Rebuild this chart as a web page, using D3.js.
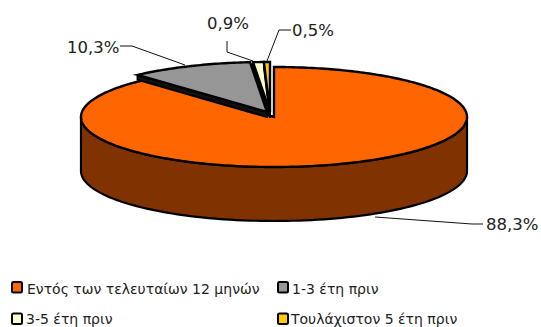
<!DOCTYPE html>
<html lang="el">
<head>
<meta charset="utf-8">
<script src="https://cdn.jsdelivr.net/npm/d3@7/dist/d3.min.js"></script>
<style>
html,body{margin:0;padding:0;background:#fff;overflow:hidden}
svg{display:block}
text{font-family:"DejaVu Sans",sans-serif;fill:#222}
</style>
</head>
<body>
<svg id="chart" width="541" height="327"></svg>
<script>
const categories = ["Εντός των τελευταίων 12 μηνών", "1-3 έτη πριν", "3-5 έτη πριν", "Τουλάχιστον 5 έτη πριν"];
const shares = [88.3, 10.3, 0.9, 0.5];
const topColors = ["#ff6600", "#969696", "#ffffcc", "#ffcc00"];
const sideColors = ["#803300", "#4b4b4b", "#808066", "#806600"];
const offsets = [[0, 0], [-7, -5], [-4, -5], [-4, -5]];
const labelAnchors = [[486, 230], [67, 53], [207, 29], [292, 36]];
const leaders = [
  [[375, 217], [472, 224], [483, 224]],
  [[185, 65], [132, 46], [120, 46]],
  [[253, 61], [227, 52], [227, 41]],
  [[267, 61], [279, 30], [291, 30]]
];
const legendSpots = [[11, 281, 27, 293.5], [277, 281, 292, 293.5], [11, 312.5, 26, 323.5], [277, 312.5, 291, 323.5]];

const cx = 274, cy = 117, rx = 193, ry = 50, depth = 54, detachedWall = 5;
const svg = d3.select("#chart");

// Clockwise from twelve o'clock; the ellipse comes from the two radii in pt().
const slices = d3.pie().sort(null).value(d => d).startAngle(0).endAngle(2 * Math.PI)(shares);
const pt = (a, dy = 0) => [rx * Math.sin(a), -ry * Math.cos(a) + dy];

// Outer wall of a slice: only the part of the rim facing the viewer is visible.
function wallPath(s) {
  const p = d3.path();
  const lo = Math.max(s.startAngle, Math.PI / 2), hi = Math.min(s.endAngle, 3 * Math.PI / 2);
  if (lo >= hi) return null;
  const steps = 96, top = [], bottom = [];
  d3.range(steps + 1).forEach(i => {
    const a = lo + (hi - lo) * i / steps;
    top.push(pt(a));
    bottom.push(pt(a, depth));
  });
  top.forEach((q, i) => i ? p.lineTo(q[0], q[1]) : p.moveTo(q[0], q[1]));
  bottom.reverse().forEach(q => p.lineTo(q[0], q[1]));
  p.closePath();
  return p.toString();
}

// Cut face below the leading edge of a detached slice.
function cutPath(s) {
  const q = pt(s.startAngle);
  const p = d3.path();
  p.moveTo(q[0], q[1]);
  p.lineTo(q[0], q[1] + detachedWall);
  p.lineTo(0, detachedWall);
  p.lineTo(0, 0);
  p.closePath();
  return p.toString();
}

// Top face traced as a polygon along the ellipse.
function facePath(s) {
  const steps = Math.max(4, Math.ceil((s.endAngle - s.startAngle) * 60));
  const p = d3.path();
  p.moveTo(0, 0);
  d3.range(steps + 1).forEach(i => {
    const q = pt(s.startAngle + (s.endAngle - s.startAngle) * i / steps);
    p.lineTo(q[0], q[1]);
  });
  p.closePath();
  return p.toString();
}

const groups = svg.selectAll("g.slice").data(slices).join("g")
  .attr("class", "slice")
  .attr("transform", (d, i) => `translate(${cx + offsets[i][0]},${cy + offsets[i][1]})`);

groups.filter((d, i) => i > 0).append("path")
  .attr("d", cutPath)
  .attr("fill", "#111").attr("stroke", "#000").attr("stroke-width", 2).attr("stroke-linejoin", "round");

groups.append("path").attr("d", wallPath)
  .attr("fill", (d, i) => sideColors[i])
  .attr("stroke", "#000").attr("stroke-width", 2.2).attr("stroke-linejoin", "round");

groups.append("path").attr("d", facePath)
  .attr("fill", (d, i) => topColors[i])
  .attr("stroke", "#000").attr("stroke-width", 2.4).attr("stroke-linejoin", "miter");

// Leader lines
const leaderLine = d3.line();
svg.selectAll("path.leader").data(leaders).join("path")
  .attr("class", "leader").attr("d", leaderLine)
  .attr("fill", "none").attr("stroke", "#111").attr("stroke-width", 1);

// Percentage labels
const percent = v => d3.format(".1f")(v).replace(".", ",") + "%";
svg.selectAll("text.pct").data(shares).join("text")
  .attr("class", "pct")
  .attr("x", (d, i) => labelAnchors[i][0]).attr("y", (d, i) => labelAnchors[i][1])
  .attr("font-size", 16.5).text(percent);

// Legend
const legend = svg.selectAll("g.key").data(categories).join("g").attr("class", "key");
legend.append("rect")
  .attr("x", (d, i) => legendSpots[i][0] + 1).attr("y", (d, i) => legendSpots[i][1] + 1)
  .attr("width", 10).attr("height", 10.5).attr("rx", 1.5)
  .attr("fill", (d, i) => topColors[i]).attr("stroke", "#000").attr("stroke-width", 2);
legend.append("text")
  .attr("x", (d, i) => legendSpots[i][2]).attr("y", (d, i) => legendSpots[i][3])
  .attr("font-size", 14).text(d => d);
</script>
</body>
</html>
